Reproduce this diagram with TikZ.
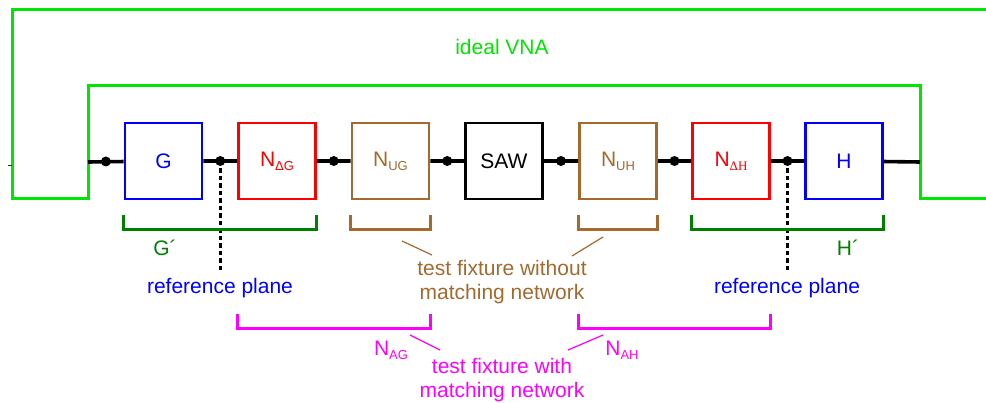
\documentclass[tikz,border=0pt]{standalone}
\usepackage{fontspec}
\setmainfont{Liberation Sans}
\newfontfamily\serifsub{Liberation Serif}
\usetikzlibrary{calc}
\definecolor{vna}{RGB}{0,230,0}
\definecolor{dgreen}{RGB}{0,128,0}
\definecolor{brn}{RGB}{165,105,45}
\definecolor{mag}{RGB}{255,0,255}
\newcommand{\Nsub}[1]{N\raisebox{-4pt}{\fontsize{13}{13}\selectfont #1}}
\begin{document}
\begin{tikzpicture}[x=1pt,y=-1pt,
  blk/.style={draw, minimum width=77pt, minimum height=76pt, line width=2.6pt, inner sep=0pt,
    font=\fontsize{21}{25}\selectfont},
  dot/.style={circle, fill=black, inner sep=0pt, minimum size=10pt},
  mainline/.style={line width=3.6pt, black},
  brk/.style={line width=2.8pt},
  lbl/.style={font=\fontsize{21}{25}\selectfont, inner sep=0pt},
  lbl2/.style={font=\fontsize{21}{24}\selectfont, align=center, inner sep=0pt},
  lead/.style={line width=1.2pt}]
\useasboundingbox (0,0) rectangle (986,403);
% ideal VNA frame
\draw[vna, line width=3pt] (986,10) -- (12,10) -- (12,199) -- (88,199) -- (88,86) -- (920,86) -- (920,199) -- (986,199);
\draw[black!70!vna, line width=1pt] (8,166) -- (12,166);
\node[lbl, text=vna] (vna) at (502,47) {ideal VNA};
\coordinate (L) at (88,162);
\coordinate (R) at (920,162);
% blocks
\node[blk, draw=blue, text=blue] (G) at (163.5,161) {G};
\node[blk, draw=red, text=red] (NdG) at (277,161) {\Nsub{ΔG}};
\node[blk, draw=brn, text=brn] (NUG) at (390.5,161) {\Nsub{UG}};
\node[blk, draw=black, text=black] (SAW) at (504,161) {SAW};
\node[blk, draw=brn, text=brn] (NUH) at (618,161) {\Nsub{UH}};
\node[blk, draw=red, text=red] (NdH) at (731,161) {\Nsub{\serifsub ΔH}};
\node[blk, draw=blue, text=blue] (H) at (844,161) {H};
% main line
\draw[mainline] (L) -- (G) (G) -- (NdG) (NdG) -- (NUG) (NUG) -- (SAW) (SAW) -- (NUH) (NUH) -- (NdH) (NdH) -- (H) (H) -- (R);
\node[dot] (d1) at ($(L)!0.5!(G.west)$) {};
\node[dot] (d2) at ($(G.east)!0.5!(NdG.west)$) {};
\node[dot] (d3) at ($(NdG.east)!0.5!(NUG.west)$) {};
\node[dot] (d4) at ($(NUG.east)!0.5!(SAW.west)$) {};
\node[dot] (d5) at ($(SAW.east)!0.5!(NUH.west)$) {};
\node[dot] (d6) at ($(NUH.east)!0.5!(NdH.west)$) {};
\node[dot] (d7) at ($(NdH.east)!0.5!(H.west)$) {};
% reference planes
\coordinate (rp1) at (d2 |- 0,273);
\coordinate (rp2) at (d7 |- 0,273);
\draw[line width=2.8pt, dash pattern=on 4.5pt off 3pt] (d2.center) -- (rp1);
\draw[line width=2.8pt, dash pattern=on 4.5pt off 3pt] (d7.center) -- (rp2);
\node[lbl, text=blue] (rpl1) at (220,288) {reference plane};
\node[lbl, text=blue] (rpl2) at (787,288) {reference plane};
% green brackets
\draw[brk, dgreen] ([yshift=-15pt]G.south west) -- ([yshift=-29pt]G.south west) -- ([yshift=-29pt]NdG.south east) -- ([yshift=-15pt]NdG.south east);
\draw[brk, dgreen] ([yshift=-15pt]NdH.south west) -- ([yshift=-29pt]NdH.south west) -- ([yshift=-29pt]H.south east) -- ([yshift=-15pt]H.south east);
\node[lbl, text=dgreen] (Gp) at (165,248) {G´};
\node[lbl, text=dgreen] (Hp) at (848,248) {H´};
% brown brackets
\draw[brk, brn] ([yshift=-15pt]NUG.south west) -- ([yshift=-29pt]NUG.south west) -- ([yshift=-29pt]NUG.south east) -- ([yshift=-15pt]NUG.south east);
\draw[brk, brn] ([yshift=-15pt]NUH.south west) -- ([yshift=-29pt]NUH.south west) -- ([yshift=-29pt]NUH.south east) -- ([yshift=-15pt]NUH.south east);
\node[lbl2, text=brn] (tfwo) at (502,282) {test fixture without\\matching network};
\coordinate (b1a) at (402,241); \coordinate (b1b) at (432,255);
\coordinate (b2a) at (603,237); \coordinate (b2b) at (572,256);
\draw[lead, brn] (b1a) -- (b1b);
\draw[lead, brn] (b2a) -- (b2b);
% magenta brackets
\draw[brk, mag] ([yshift=-114pt]NdG.south west) -- ([yshift=-128pt]NdG.south west) -- ([yshift=-128pt]NUG.south east) -- ([yshift=-114pt]NUG.south east);
\draw[brk, mag] ([yshift=-114pt]NUH.south west) -- ([yshift=-128pt]NUH.south west) -- ([yshift=-128pt]NdH.south east) -- ([yshift=-114pt]NdH.south east);
\node[lbl, text=mag] (NAG) at (391,350) {\Nsub{AG}};
\node[lbl, text=mag] (NAH) at (622,350) {\Nsub{AH}};
\node[lbl2, text=mag] (tfw) at (502,380) {test fixture with\\matching network};
\coordinate (m1a) at (410,335); \coordinate (m1b) at (440,350);
\coordinate (m2a) at (603,335); \coordinate (m2b) at (568,350);
\draw[lead, mag] (m1a) -- (m1b);
\draw[lead, mag] (m2a) -- (m2b);
\end{tikzpicture}
\end{document}
